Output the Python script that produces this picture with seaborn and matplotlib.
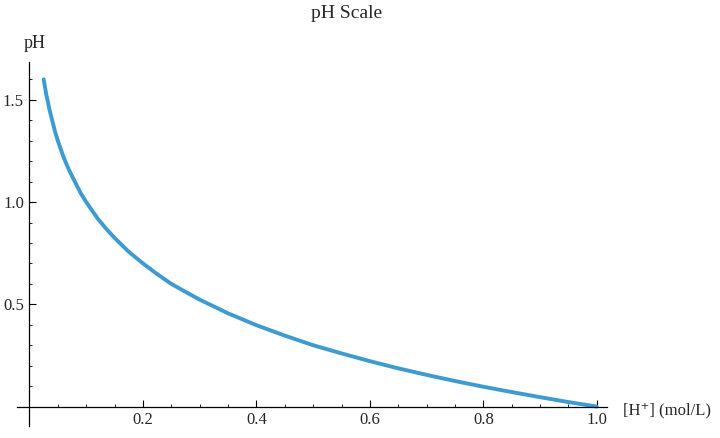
import matplotlib
matplotlib.use('Agg')
import matplotlib.pyplot as plt
from matplotlib.ticker import MultipleLocator, FixedLocator
import pandas as pd
import seaborn as sns

sns.set_style('white')
plt.rcParams['font.family'] = ['Liberation Serif', 'DejaVu Serif']

# values
h_conc = [0.025, 0.0275, 0.03, 0.0325, 0.035, 0.04, 0.045, 0.05, 0.055, 0.06,
          0.07, 0.08, 0.09, 0.1, 0.11, 0.12, 0.135, 0.15, 0.175, 0.2, 0.225,
          0.25, 0.275, 0.3, 0.35, 0.4, 0.45, 0.5, 0.55, 0.6, 0.65, 0.7, 0.75,
          0.8, 0.85, 0.9, 0.95, 1.0]
ph_vals = [1.60, 1.56, 1.52, 1.49, 1.455, 1.40, 1.345, 1.30, 1.26, 1.22,
           1.155, 1.10, 1.045, 1.00, 0.96, 0.92, 0.87, 0.825, 0.757, 0.70, 0.648,
           0.60, 0.561, 0.523, 0.456, 0.398, 0.347, 0.30, 0.26, 0.222, 0.187, 0.155, 0.125,
           0.097, 0.071, 0.046, 0.022, 0.0]
x_ticks = [0.2, 0.4, 0.6, 0.8, 1.0]
y_ticks = [0.5, 1.0, 1.5]

df = pd.DataFrame({'conc': h_conc, 'ph': ph_vals})

fig = plt.figure(figsize=(7.2, 4.38), dpi=100)
ax = fig.add_axes([17 / 720, 12 / 438, 590 / 720, 364 / 438])

sns.lineplot(data=df, x='conc', y='ph', color='#3d9bd2', linewidth=2.8, ax=ax)

ax.set_xlim(-0.022, 1.018)
ax.set_ylim(-0.095, 1.685)

for side in ['top', 'right']:
    ax.spines[side].set_visible(False)
ax.spines['left'].set_position(('data', 0))
ax.spines['bottom'].set_position(('data', 0))
for side in ['left', 'bottom']:
    ax.spines[side].set_linewidth(0.9)
    ax.spines[side].set_color('black')

ax.xaxis.set_major_locator(FixedLocator(x_ticks))
ax.yaxis.set_major_locator(FixedLocator(y_ticks))
ax.xaxis.set_minor_locator(MultipleLocator(0.05))
ax.yaxis.set_minor_locator(MultipleLocator(0.1))
ax.set_xticklabels([f'{v:.1f}' for v in x_ticks])
ax.set_yticklabels([f'{v:.1f}' for v in y_ticks])
ax.tick_params(which='major', direction='in', length=5, width=0.8,
               labelsize=12, pad=4, color='black')
ax.tick_params(which='minor', direction='in', length=2.5, width=0.6, color='black')
ax.tick_params(axis='x', which='both', bottom=True)
ax.tick_params(axis='y', which='both', left=True)
ax.set_xlabel('')
ax.set_ylabel('')

fig.text(35 / 720, 1 - 43 / 438, 'pH', ha='center', va='center', fontsize=13)
fig.text(623 / 720, 1 - 410 / 438, '[H\u207a] (mol/L)', ha='left', va='center', fontsize=12)
fig.text(347 / 720, 1 - 13 / 438, 'pH Scale', ha='center', va='center', fontsize=14)

fig.savefig('out.png', dpi=100)
